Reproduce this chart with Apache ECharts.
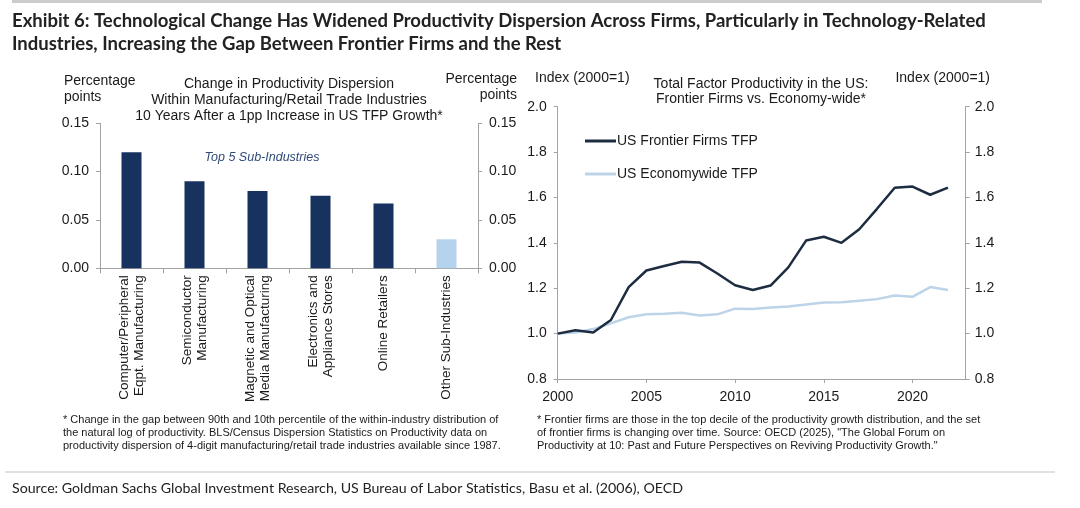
<!DOCTYPE html>
<html lang="en">
<head>
<meta charset="UTF-8">
<title>Exhibit 6</title>
<script src="https://cdn.jsdelivr.net/npm/echarts@6/dist/echarts.min.js"></script>
<style>
  html, body { margin: 0; padding: 0; background: #fff; }
  #main { width: 1080px; height: 508px; }
</style>
</head>
<body>
<div id="main"></div>
<script>
// left panel: dispersion change by sub-industry
var industries = [
    'Computer/Peripheral\nEqpt. Manufacturing',
    'Semiconductor\nManufacturing',
    'Magnetic and Optical\nMedia Manufacturing',
    'Electronics and\nAppliance Stores',
    'Online Retailers',
    'Other Sub-Industries'
];
var dispersion = [0.120, 0.090, 0.080, 0.075, 0.067, 0.030];

// right panel: TFP index, 2000 = 1
var years = [2000, 2001, 2002, 2003, 2004, 2005, 2006, 2007, 2008, 2009, 2010, 2011,
             2012, 2013, 2014, 2015, 2016, 2017, 2018, 2019, 2020, 2021, 2022];
var frontierTFP = [1.000, 1.015, 1.005, 1.060, 1.205, 1.278, 1.298, 1.317, 1.313, 1.265, 1.213, 1.192,
                   1.212, 1.292, 1.410, 1.427, 1.400, 1.460, 1.550, 1.643, 1.648, 1.612, 1.643];
var economyTFP  = [1.000, 1.005, 1.020, 1.045, 1.072, 1.085, 1.088, 1.092, 1.080, 1.085, 1.110, 1.108,
                   1.115, 1.120, 1.128, 1.137, 1.138, 1.145, 1.152, 1.168, 1.162, 1.205, 1.192];
var yearTicks = [2000, 2005, 2010, 2015, 2020];

var NAVY = '#17325f';
var PALE = '#b6d3ee';
var AXIS = '#a3a3a3';
var INK = '#1a1a1a';
var SANS = '"Liberation Sans", Arial, sans-serif';
var HEAD = 'Lato, "Open Sans", sans-serif';

function pairs(xs, ys) {
    return xs.map(function (x, i) { return [x, ys[i]]; });
}

function valueAxis(opts) {
    var base = {
        type: 'value',
        axisLine: { show: true, lineStyle: { color: AXIS, width: 1 } },
        axisTick: { show: true, length: 4, lineStyle: { color: AXIS } },
        splitLine: { show: false },
        axisLabel: { color: INK, fontFamily: SANS }
    };
    return Object.assign(base, opts);
}

function txt(x, y, text, style) {
    return {
        type: 'text', x: x, y: y, silent: true,
        style: Object.assign({ text: text, fill: INK, font: '14px ' + SANS, textVerticalAlign: 'middle' }, style || {})
    };
}

var chart = echarts.init(document.getElementById('main'), null, { renderer: 'canvas' });

var option = {
    animation: false,
    backgroundColor: '#fff',
    grid: [
        { left: 100, right: 602, top: 123.3, bottom: 239.7 },
        { left: 557.7, right: 114.3, top: 106.7, bottom: 129 }
    ],
    xAxis: [
        {
            type: 'category', gridIndex: 0, data: industries,
            axisLine: { lineStyle: { color: AXIS } },
            axisTick: { show: true, length: 5, lineStyle: { color: AXIS } },
            axisLabel: {
                interval: 0, rotate: 90, margin: 7,
                color: INK, fontFamily: SANS, fontSize: 13.5, lineHeight: 15
            }
        },
        {
            type: 'value', gridIndex: 1, min: 2000, max: 2023, interval: 5,
            axisLine: { lineStyle: { color: AXIS } },
            axisTick: { show: true, length: 4, customValues: yearTicks, lineStyle: { color: AXIS } },
            splitLine: { show: false },
            axisLabel: {
                customValues: yearTicks, margin: 11,
                color: INK, fontFamily: SANS, fontSize: 14,
                formatter: function (v) { return String(v); }
            }
        }
    ],
    yAxis: [
        valueAxis({
            gridIndex: 0, position: 'left', min: 0, max: 0.15, interval: 0.05,
            axisLabel: { color: INK, fontFamily: SANS, fontSize: 14, margin: 11,
                formatter: function (v) { return v.toFixed(2); } }
        }),
        valueAxis({
            gridIndex: 0, position: 'right', min: 0, max: 0.15, interval: 0.05,
            axisLabel: { color: INK, fontFamily: SANS, fontSize: 14, margin: 11,
                formatter: function (v) { return v.toFixed(2); } }
        }),
        valueAxis({
            gridIndex: 1, position: 'left', min: 0.8, max: 2.0, interval: 0.2,
            axisLabel: { color: INK, fontFamily: SANS, fontSize: 14, margin: 11,
                formatter: function (v) { return v.toFixed(1); } }
        }),
        valueAxis({
            gridIndex: 1, position: 'right', min: 0.8, max: 2.0, interval: 0.2,
            axisLabel: { color: INK, fontFamily: SANS, fontSize: 14, margin: 9,
                formatter: function (v) { return v.toFixed(1); } }
        })
    ],
    legend: {
        orient: 'vertical', left: 580, top: 129, itemGap: 19,
        itemWidth: 31, itemHeight: 3, icon: 'rect',
        textStyle: { color: INK, fontFamily: SANS, fontSize: 14, padding: [0, 0, 0, -4] },
        data: ['US Frontier Firms TFP', 'US Economywide TFP']
    },
    series: [
        {
            name: 'Dispersion', type: 'bar', xAxisIndex: 0, yAxisIndex: 0,
            barWidth: 20,
            data: dispersion.map(function (v, i) {
                return { value: v, itemStyle: { color: i === dispersion.length - 1 ? PALE : NAVY } };
            })
        },
        {
            name: 'US Economywide TFP', type: 'line', xAxisIndex: 1, yAxisIndex: 2,
            showSymbol: false, symbol: 'none', color: '#bdd4e8',
            lineStyle: { width: 2.5, color: '#bdd4e8' },
            data: pairs(years, economyTFP)
        },
        {
            name: 'US Frontier Firms TFP', type: 'line', xAxisIndex: 1, yAxisIndex: 2,
            showSymbol: false, symbol: 'none', color: '#1d2c40',
            lineStyle: { width: 2.5, color: '#1d2c40' },
            data: pairs(years, frontierTFP)
        }
    ],
    graphic: [
        { type: 'rect', shape: { x: 12, y: 0, width: 1030, height: 3 }, style: { fill: '#cccccc' }, silent: true },
        txt(12, 21, 'Exhibit 6: Technological Change Has Widened Productivity Dispersion Across Firms, Particularly in Technology-Related',
            { font: 'bold 18.5px ' + HEAD, fill: '#222' }),
        txt(12, 44, 'Industries, Increasing the Gap Between Frontier Firms and the Rest',
            { font: 'bold 18.5px ' + HEAD, fill: '#222' }),

        // left panel headings
        txt(64, 81, 'Percentage'),
        txt(64, 97, 'points'),
        txt(517, 79, 'Percentage', { textAlign: 'right' }),
        txt(517, 95, 'points', { textAlign: 'right' }),
        txt(289, 84, 'Change in Productivity Dispersion', { textAlign: 'center' }),
        txt(289, 100, 'Within Manufacturing/Retail Trade Industries', { textAlign: 'center' }),
        txt(289, 116, '10 Years After a 1pp Increase in US TFP Growth*', { textAlign: 'center' }),
        txt(262, 158, 'Top 5 Sub-Industries', { font: 'italic 12.5px ' + SANS, textAlign: 'center', fill: '#2f4a78' }),

        // right panel headings
        txt(535, 78, 'Index (2000=1)'),
        txt(990, 78, 'Index (2000=1)', { textAlign: 'right' }),
        txt(761, 84, 'Total Factor Productivity in the US:', { textAlign: 'center' }),
        txt(761, 99, 'Frontier Firms vs. Economy-wide*', { textAlign: 'center' }),

        // footnotes
        txt(63, 420, '* Change in the gap between 90th and 10th percentile of the within-industry distribution of', { font: '11px ' + SANS }),
        txt(63, 433, 'the natural log of productivity. BLS/Census Dispersion Statistics on Productivity data on', { font: '11px ' + SANS }),
        txt(63, 446, 'productivity dispersion of 4-digit manufacturing/retail trade industries available since 1987.', { font: '11px ' + SANS }),
        txt(537, 420, '* Frontier firms are those in the top decile of the productivity growth distribution, and the set', { font: '11px ' + SANS }),
        txt(537, 433, 'of frontier firms is changing over time. Source: OECD (2025), "The Global Forum on', { font: '11px ' + SANS }),
        txt(537, 446, 'Productivity at 10: Past and Future Perspectives on Reviving Productivity Growth."', { font: '11px ' + SANS }),

        { type: 'rect', shape: { x: 5, y: 471.5, width: 1050, height: 1 }, style: { fill: '#c4c4c4' }, silent: true },
        txt(12, 488, 'Source: Goldman Sachs Global Investment Research, US Bureau of Labor Statistics, Basu et al. (2006), OECD',
            { font: '14.2px ' + HEAD, fill: '#222' })
    ]
};

chart.setOption(option);
</script>
</body>
</html>
